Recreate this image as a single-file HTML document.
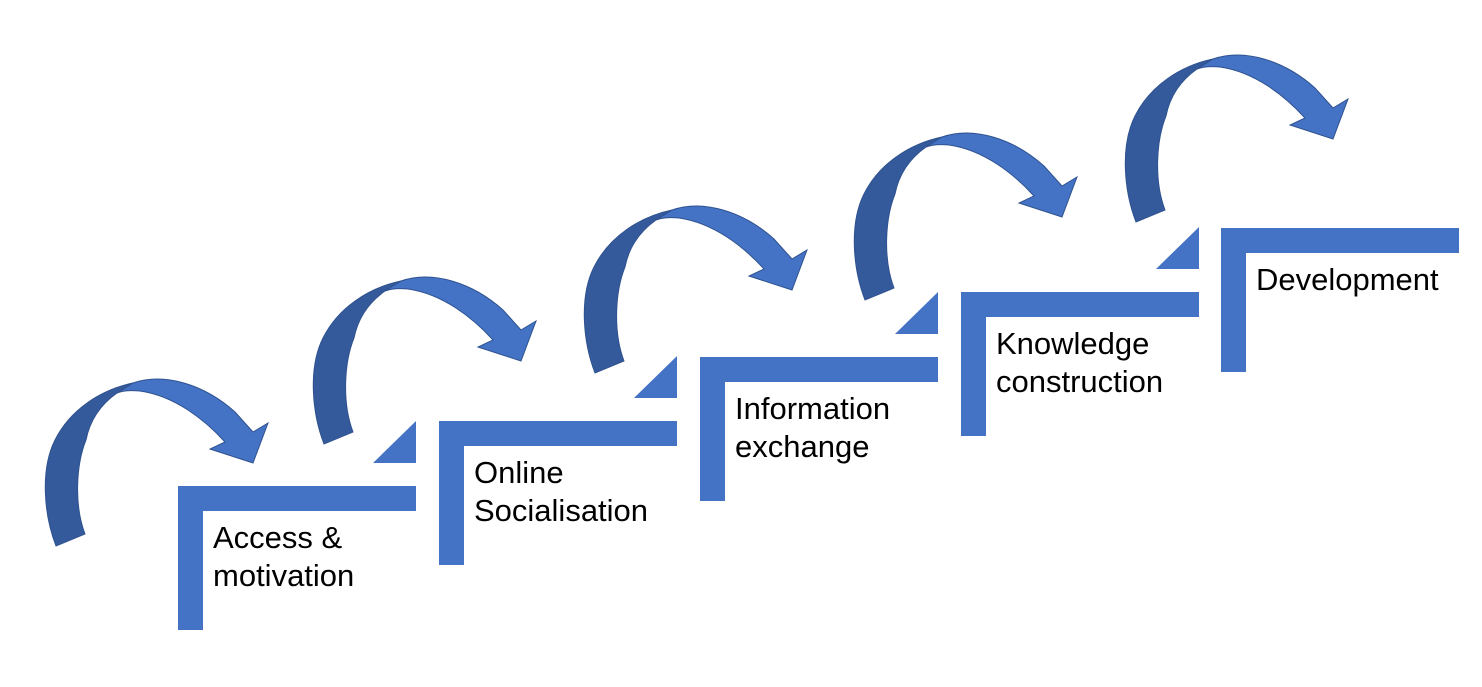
<!DOCTYPE html>
<html>
<head>
<meta charset="utf-8">
<style>
  html, body { margin: 0; padding: 0; background: #ffffff; }
  body { width: 1482px; height: 687px; overflow: hidden; }
  svg { display: block; }
  text { font-family: "Liberation Sans", sans-serif; font-size: 31px; fill: #000000; }
</style>
</head>
<body>
<svg width="1482" height="687" viewBox="0 0 1482 687" xmlns="http://www.w3.org/2000/svg">
  <defs>
    <g id="arrow">
      <path d="M56,546 C44,515 40,470 55,440 C70,410 100,390 133,383 L117,393 C100,405 90,420 86,440 C76,465 74,505 85,534 Z"
            fill="#355A9B" stroke="#2F528F" stroke-width="1"/>
      <path d="M117,393 L133,383 C165,372 205,385 235,412 L253,432 L268,423 L253,463 L210,449 L225,442 C205,420 175,396 140,391 C130,390 122,391 117,393 Z"
            fill="#4472C4" stroke="#2F528F" stroke-width="1"/>
    </g>
    <g id="step">
      <path d="M0,0 H238 V25 H25 V144 H0 Z" fill="#4472C4"/>
    </g>
  </defs>

  <!-- Steps (L shapes) -->
  <use href="#step" x="178" y="486"/>
  <use href="#step" x="439" y="421"/>
  <use href="#step" x="700" y="357"/>
  <use href="#step" x="961" y="292"/>
  <use href="#step" x="1221" y="228"/>

  <!-- Triangles -->
  <polygon points="373,463 416,463 416,421" fill="#4472C4"/>
  <polygon points="634,398 677,398 677,356" fill="#4472C4"/>
  <polygon points="895,334 938,334 938,292" fill="#4472C4"/>
  <polygon points="1156,269 1199,269 1199,227" fill="#4472C4"/>

  <!-- Arrows -->
  <use href="#arrow" x="0" y="0"/>
  <use href="#arrow" x="268" y="-102"/>
  <use href="#arrow" x="539" y="-173"/>
  <use href="#arrow" x="809" y="-246"/>
  <use href="#arrow" x="1080" y="-324"/>

  <!-- Labels -->
  <text x="213" y="548">Access &amp;</text>
  <text x="213" y="586">motivation</text>

  <text x="474" y="483">Online</text>
  <text x="474" y="521">Socialisation</text>

  <text x="735" y="419">Information</text>
  <text x="735" y="457">exchange</text>

  <text x="996" y="354">Knowledge</text>
  <text x="996" y="392">construction</text>

  <text x="1256" y="290">Development</text>
</svg>
</body>
</html>
